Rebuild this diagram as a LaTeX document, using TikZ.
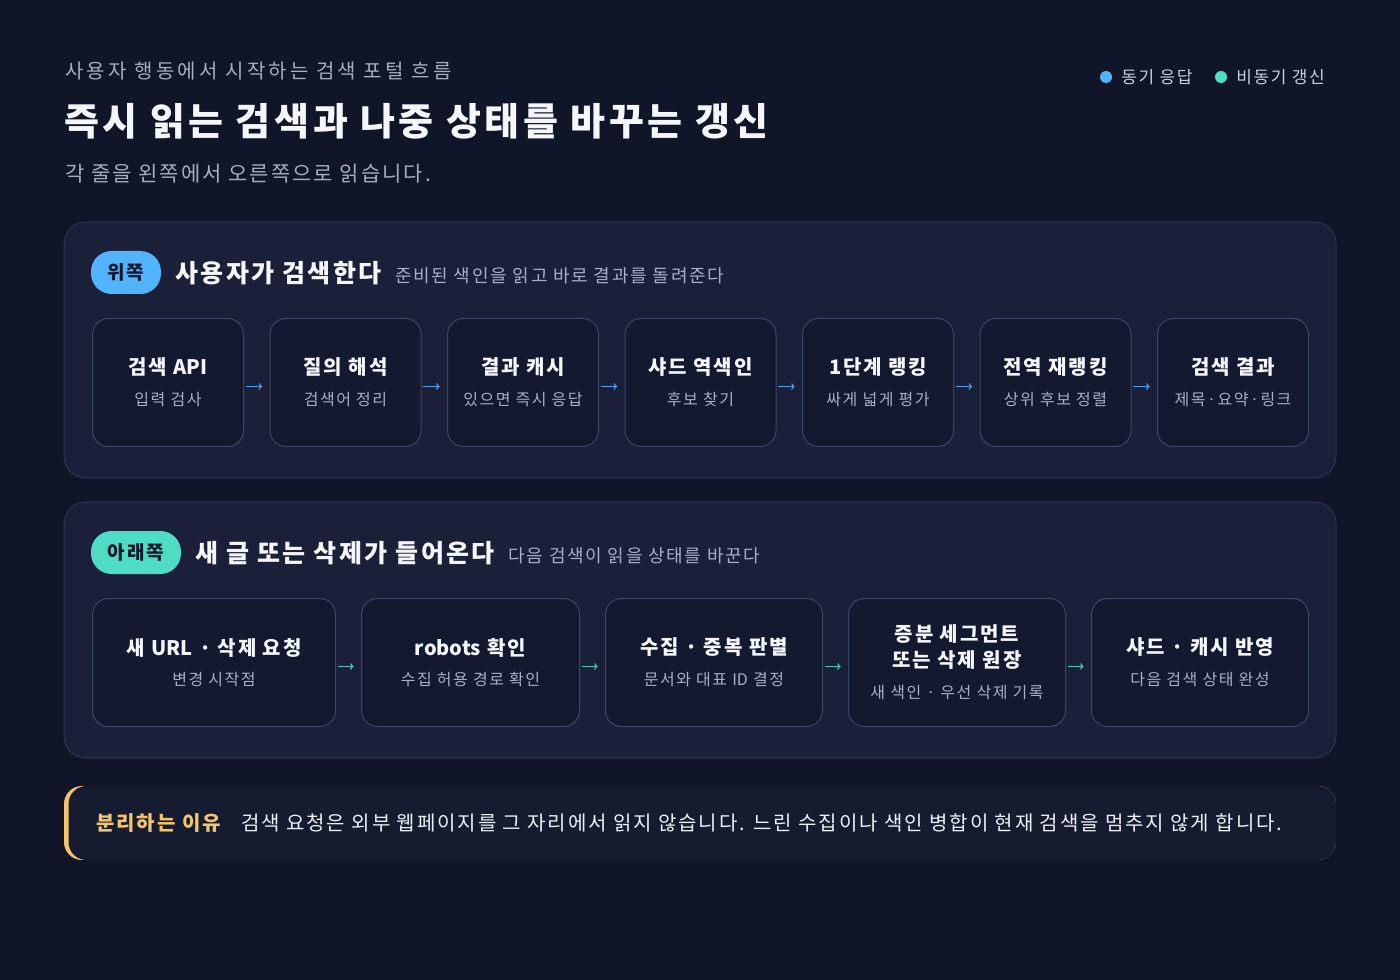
\documentclass[tikz,border=0pt]{standalone}
\usepackage{fontspec}
\setmainfont{Noto Sans CJK KR}
\newfontfamily\ksp[LetterSpace=9.5]{Noto Sans CJK KR}
\newfontfamily\kspk[LetterSpace=16]{Noto Sans CJK KR}
\newcommand\lat[1]{{\rmfamily #1}}
\usetikzlibrary{arrows.meta}
\definecolor{bg}{HTML}{111528}
\definecolor{panelbg}{HTML}{1B2039}
\definecolor{panelline}{HTML}{2E3553}
\definecolor{boxbg}{HTML}{131A2F}
\definecolor{boxline}{HTML}{3B4565}
\definecolor{txtwhite}{HTML}{F4F6FB}
\definecolor{subgray}{HTML}{A7AFC4}
\definecolor{topgray}{HTML}{A6ADBF}
\definecolor{pillblue}{HTML}{52B4FF}
\definecolor{pillteal}{HTML}{4FDCC4}
\definecolor{arrowblue}{HTML}{4A9EEA}
\definecolor{arrowteal}{HTML}{45C9B6}
\definecolor{noteyellow}{HTML}{F6C56B}
\definecolor{notebg}{HTML}{161C30}
\definecolor{pilltext}{HTML}{0F1A2E}
\begin{document}
\begin{tikzpicture}[x=0.75pt,y=-0.75pt,
  panel/.style={draw=panelline, fill=panelbg, line width=0.75pt, rounded corners=16.5pt},
  box/.style={draw=boxline, fill=boxbg, line width=0.75pt, rounded corners=12pt, inner sep=0pt},
  ttl/.style={text=txtwhite, font=\ksp\fontsize{15}{19}\selectfont\bfseries, inner sep=0pt, align=center},
  sub/.style={text=subgray, font=\ksp\fontsize{12}{14}\selectfont, inner sep=0pt},
  hdr/.style={text=txtwhite, font=\ksp\fontsize{18.75}{22}\selectfont\bfseries, inner sep=0pt},
  hdesc/.style={text=subgray, font=\ksp\fontsize{13.5}{16}\selectfont, inner sep=0pt},
  pill/.style={rounded corners=15.5pt, minimum height=32.25pt, inner sep=0pt, text=pilltext, font=\ksp\fontsize{14.25}{17}\selectfont\bfseries},
  barrow/.style={draw=arrowblue, line width=0.9pt, -{To[length=2.6pt,width=5pt]}},
  tarrow/.style={draw=arrowteal, line width=0.9pt, -{To[length=2.6pt,width=5pt]}},
  legtxt/.style={text=subgray!60!white, font=\ksp\fontsize{12.75}{15}\selectfont, inner sep=0pt, anchor=west}
 ]
\useasboundingbox (0,0) rectangle (1400,980);
\fill[bg] (0,0) rectangle (1400,980);

% heading
\node[anchor=west, inner sep=0pt, text=topgray, font=\kspk\fontsize{15}{18}\selectfont] (kicker) at (65,71) {사용자 행동에서 시작하는 검색 포털 흐름};
\node[anchor=west, inner sep=0pt, text=txtwhite, font=\ksp\fontsize{28.5}{34}\selectfont\bfseries] (title) at (64,121) {즉시 읽는 검색과 나중 상태를 바꾸는 갱신};
\node[anchor=west, inner sep=0pt, text=topgray, font=\ksp\fontsize{15.75}{18}\selectfont] (lede) at (65,174) {각 줄을 왼쪽에서 오른쪽으로 읽습니다.};

% legend
\fill[pillblue] (1106,77) circle (6);
\node[legtxt] (leg1) at (1121,77) {동기 응답};
\fill[pillteal] (1221,77) circle (6);
\node[legtxt] (leg2) at (1236,77) {비동기 갱신};

% panel 1
\path[panel] (64,222) rectangle (1336,478);
\node[pill, fill=pillblue, minimum width=52.5pt] (p1) at (126,272.5) {위쪽};
\node[hdr, anchor=west] (h1) at (175,273) {사용자가 검색한다};
\node[hdesc, anchor=base west] (d1) at ([xshift=9.75pt]h1.base east) {준비된 색인을 읽고 바로 결과를 돌려준다};

\foreach \i/\x/\t/\s in {1/92/검색 \lat{API}/입력 검사, 2/269.5/질의 해석/검색어 정리, 3/447/결과 캐시/있으면 즉시 응답, 4/624.5/샤드 역색인/후보 찾기, 5/802/1단계 랭킹/싸게 넓게 평가, 6/979.5/전역 재랭킹/상위 후보 정렬, 7/1157/검색 결과/제목·요약·링크}{
  \node[box, anchor=north west, minimum width=113.25pt, minimum height=96pt] (a\i) at (\x,318) {};
  \node[ttl] (at\i) at ([yshift=11.25pt]a\i.center) {\t};
  \node[sub] (as\i) at ([yshift=-12.75pt]a\i.center) {\s};
}
\foreach \i/\j in {1/2,2/3,3/4,4/5,5/6,6/7}{
  \draw[barrow] ([xshift=1.2pt,yshift=-3pt]a\i.east) -- ([xshift=-5.5pt,yshift=-3pt]a\j.west);
}

% panel 2
\path[panel] (64,502) rectangle (1336,758);
\node[pill, fill=pillteal, minimum width=67.5pt] (p2) at (136,552.5) {아래쪽};
\node[hdr, anchor=west] (h2) at (195,553) {새 글 또는 삭제가 들어온다};
\node[hdesc, anchor=base west] (d2) at ([xshift=9.75pt]h2.base east) {다음 검색이 읽을 상태를 바꾼다};

\foreach \i/\x/\w in {1/92/243, 2/361/218, 3/605/217, 4/848/217, 5/1091/217}{
  \node[box, anchor=north west, minimum width=0.75*\w pt, minimum height=96pt] (b\i) at (\x,598) {};
}
\node[ttl] (bt1) at ([yshift=11.25pt]b1.center) {새 \lat{URL} · 삭제 요청};
\node[sub] (bs1) at ([yshift=-12.75pt]b1.center) {변경 시작점};
\node[ttl] (bt2) at ([yshift=11.25pt]b2.center) {\lat{robots} 확인};
\node[sub] (bs2) at ([yshift=-12.75pt]b2.center) {수집 허용 경로 확인};
\node[ttl] (bt3) at ([yshift=11.25pt]b3.center) {수집 · 중복 판별};
\node[sub] (bs3) at ([yshift=-12.75pt]b3.center) {문서와 대표 \lat{ID} 결정};
\node[ttl] (bt4a) at ([yshift=21pt]b4.center) {증분 세그먼트};
\node[ttl] (bt4b) at ([yshift=1.5pt]b4.center) {또는 삭제 원장};
\node[sub] (bs4) at ([yshift=-22.5pt]b4.center) {새 색인 · 우선 삭제 기록};
\node[ttl] (bt5) at ([yshift=11.25pt]b5.center) {샤드 · 캐시 반영};
\node[sub] (bs5) at ([yshift=-12.75pt]b5.center) {다음 검색 상태 완성};
\foreach \i/\j in {1/2,2/3,3/4,4/5}{
  \draw[tarrow] ([xshift=1.2pt,yshift=-3pt]b\i.east) -- ([xshift=-5.5pt,yshift=-3pt]b\j.west);
}

% note
\begin{scope}
  \clip[rounded corners=13.5pt] (64,786) rectangle (1336,860);
  \fill[noteyellow] (64,786) rectangle (1336,860);
  \fill[notebg, rounded corners=13.5pt] (68.5,786) rectangle (1370,860);
\end{scope}
\node[anchor=west, inner sep=0pt, text=noteyellow, font=\ksp\fontsize{15}{18}\selectfont\bfseries] (nk) at (96,823) {분리하는 이유};
\node[anchor=base west, inner sep=0pt, text=txtwhite!92!subgray, font=\ksp\fontsize{15}{18}\selectfont] (nb) at (241,0 |- nk.base) {검색 요청은 외부 웹페이지를 그 자리에서 읽지 않습니다. 느린 수집이나 색인 병합이 현재 검색을 멈추지 않게 합니다.};
\end{tikzpicture}
\end{document}
